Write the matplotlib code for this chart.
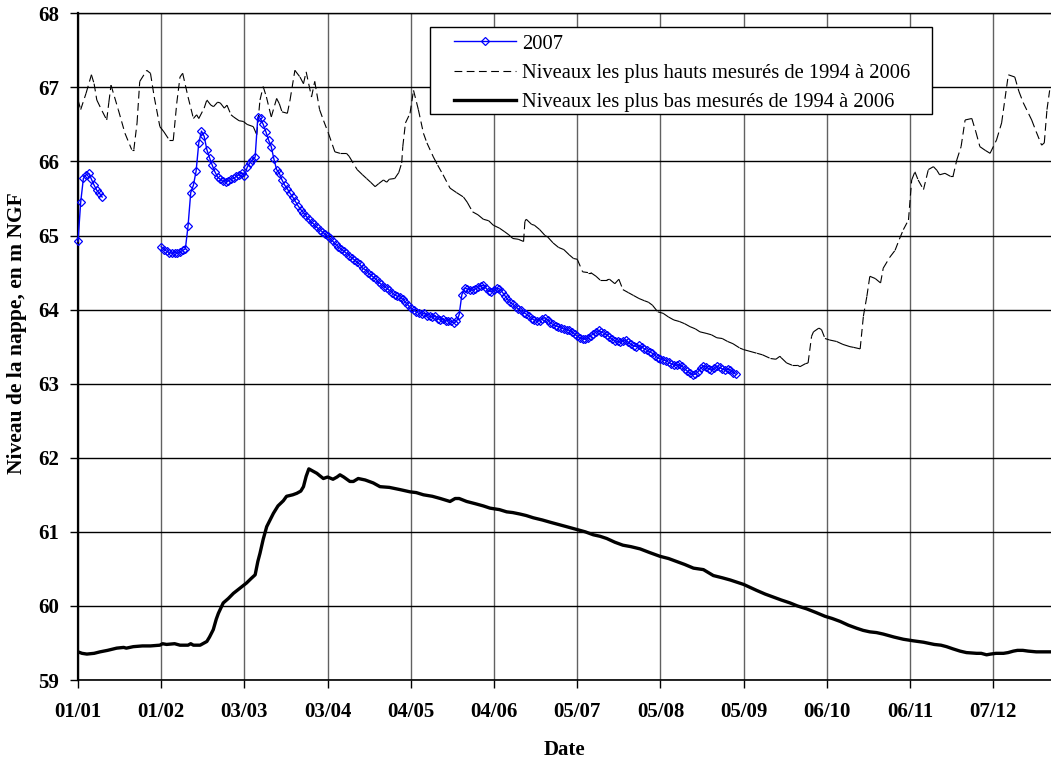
import numpy as np
import matplotlib
matplotlib.use("Agg")
import matplotlib.pyplot as plt
from matplotlib.collections import LineCollection
from matplotlib.lines import Line2D
from matplotlib.patches import Rectangle

plt.rcParams['font.family'] = ['Liberation Serif', 'DejaVu Serif']

# x axis: day of year, labels every 31 days
tick_days = [0, 31, 62, 93, 124, 155, 186, 217, 248, 279, 310, 341]
tick_labels = ["01/01", "01/02", "03/03", "03/04", "04/05", "04/06",
               "05/07", "05/08", "05/09", "06/10", "06/11", "07/12"]

# 2007 levels (daily), two pieces separated by a gap
days_2007_a = list(range(0, 10))
vals_2007_a = [64.92, 65.45, 65.77, 65.82, 65.84, 65.76, 65.68, 65.61, 65.57, 65.52]

days_2007_b = list(range(31, 246))
vals_2007_b = [
    64.85, 64.81, 64.79, 64.77, 64.76, 64.77, 64.76, 64.78, 64.80, 64.82,  # 31-40
    65.13, 65.58, 65.68, 65.87, 66.25, 66.41, 66.34, 66.16, 66.05, 65.95,  # 41-50
    65.86, 65.79, 65.76, 65.73, 65.72, 65.74, 65.76, 65.77, 65.80, 65.82,  # 51-60
    65.85, 65.80, 65.92, 65.98, 66.02, 66.06, 66.60, 66.58, 66.50, 66.40,  # 61-70
    66.29, 66.20, 66.03, 65.89, 65.84, 65.75, 65.68, 65.63, 65.57, 65.52,  # 71-80
    65.46, 65.40, 65.35, 65.31, 65.26, 65.22, 65.18, 65.15, 65.11, 65.08,  # 81-90
    65.05, 65.02, 64.99, 64.96, 64.92, 64.88, 64.85, 64.82, 64.79, 64.76,  # 91-100
    64.73, 64.70, 64.67, 64.64, 64.61, 64.56, 64.54, 64.50, 64.47, 64.44,  # 101-110
    64.41, 64.37, 64.34, 64.31, 64.29, 64.26, 64.23, 64.20, 64.18, 64.17,  # 111-120
    64.14, 64.10, 64.06, 64.02, 64.00, 63.97, 63.95, 63.94, 63.95, 63.92,  # 121-130
    63.91, 63.90, 63.92, 63.88, 63.86, 63.88, 63.85, 63.85, 63.84, 63.82,  # 131-140
    63.84, 63.93, 64.20, 64.29, 64.28, 64.27, 64.26, 64.28, 64.30, 64.32,  # 141-150
    64.33, 64.29, 64.25, 64.24, 64.27, 64.29, 64.28, 64.24, 64.19, 64.14,  # 151-160
    64.10, 64.07, 64.04, 64.01, 63.99, 63.96, 63.94, 63.91, 63.88, 63.86,  # 161-170
    63.84, 63.85, 63.88, 63.89, 63.86, 63.82, 63.80, 63.78, 63.77, 63.75,  # 171-180
    63.74, 63.73, 63.72, 63.70, 63.67, 63.64, 63.62, 63.61, 63.60, 63.62,  # 181-190
    63.65, 63.67, 63.70, 63.72, 63.70, 63.68, 63.66, 63.63, 63.60, 63.58,  # 191-200
    63.57, 63.56, 63.58, 63.59, 63.56, 63.53, 63.51, 63.50, 63.52, 63.50,  # 201-210
    63.47, 63.45, 63.43, 63.41, 63.38, 63.35, 63.33, 63.32, 63.31, 63.29,  # 211-220
    63.27, 63.25, 63.25, 63.26, 63.24, 63.20, 63.17, 63.14, 63.12, 63.13,  # 221-230
    63.16, 63.21, 63.24, 63.23, 63.20, 63.18, 63.21, 63.24, 63.22, 63.20,  # 231-240
    63.18, 63.20, 63.19, 63.15, 63.13,                                     # 241-245
]

# highest levels 1994-2006
hi_days = [0, 1, 3, 5, 6, 7, 9, 10.7, 11.5, 12.3, 15, 17.5, 20, 20.8, 22, 23, 25.6, 27,
           28.4, 30.5, 32, 34, 35.5, 36.8, 38, 39, 41, 43, 44.2, 45, 47, 48, 49.5, 50.5,
           52, 53, 54.5, 55.5, 57, 58, 60, 61.6, 63, 65.3, 66.6, 67.8, 69, 70.2, 72, 74,
           75, 76, 78, 79, 80.8, 82.7, 84, 85, 87, 88.2, 90, 91.5, 93.3, 95.7, 97.6, 100,
           101, 104, 106, 107.5, 109, 110.7, 112, 113.8, 115, 116, 118, 119.5, 120.6, 121,
           122, 123.7, 125, 126.8, 128.7, 130, 132.4, 134, 136, 138.6, 141, 143.6, 145,
           147, 149, 151, 153, 154.7, 157, 159, 160.5, 162, 164, 166, 166.5, 167, 169,
           170, 172, 174, 175, 177, 179, 181, 183, 184.6, 186, 188, 190, 191, 193, 194.5,
           197, 198, 200, 201.5, 203, 205, 207, 209, 211, 212.5, 214, 216, 218, 220, 222,
           224, 226, 228, 230, 231.7, 234, 236, 238, 240, 242, 244, 246.6, 248, 250, 253,
           255, 258, 260, 261.5, 262, 264, 266, 268, 269, 271, 272, 273.3, 274, 276, 277,
           278.3, 280, 282.6, 285, 287.6, 289, 291.4, 292.6, 293.9, 295, 297, 299, 300,
           302.5, 304.4, 306, 307.5, 309.4, 310.6, 311.8, 313, 315, 316.8, 318.7, 320,
           321, 323, 325, 326, 327.4, 329, 330.5, 333, 334.5, 336, 338, 339.8, 342.2,
           344.1, 346.6, 349, 350.5, 352.2, 355.3, 357, 359, 360, 361, 362]
hi_vals = [66.83, 66.70, 66.92, 67.17, 67.05, 66.83, 66.68, 66.56, 66.80, 67.03, 66.70,
           66.38, 66.16, 66.16, 66.52, 67.08, 67.23, 67.19, 66.87, 66.47, 66.40, 66.29,
           66.29, 66.79, 67.14, 67.19, 66.87, 66.58, 66.63, 66.58, 66.72, 66.83, 66.76,
           66.74, 66.80, 66.79, 66.72, 66.76, 66.63, 66.60, 66.55, 66.54, 66.50, 66.47,
           66.36, 66.83, 67.01, 66.87, 66.60, 66.85, 66.78, 66.67, 66.65, 66.83, 67.23,
           67.14, 67.05, 67.21, 66.87, 67.08, 66.70, 66.55, 66.38, 66.13, 66.11, 66.11,
           66.07, 65.89, 65.82, 65.77, 65.72, 65.66, 65.70, 65.75, 65.72, 65.76, 65.77,
           65.85, 65.98, 66.20, 66.52, 66.65, 66.96, 66.70, 66.38, 66.25, 66.06, 65.95,
           65.82, 65.64, 65.58, 65.52, 65.45, 65.32, 65.28, 65.22, 65.20, 65.14, 65.10,
           65.05, 65.01, 64.96, 64.95, 64.92, 65.19, 65.22, 65.15, 65.14, 65.08, 65.00,
           64.98, 64.90, 64.84, 64.81, 64.74, 64.69, 64.68, 64.51, 64.50, 64.50, 64.45,
           64.40, 64.40, 64.41, 64.35, 64.41, 64.27, 64.23, 64.19, 64.15, 64.12, 64.10,
           64.06, 63.97, 63.95, 63.90, 63.86, 63.84, 63.81, 63.77, 63.74, 63.70, 63.68,
           63.66, 63.62, 63.61, 63.57, 63.54, 63.48, 63.46, 63.44, 63.41, 63.39, 63.34,
           63.33, 63.37, 63.35, 63.28, 63.25, 63.25, 63.23, 63.27, 63.28, 63.64, 63.70,
           63.75, 63.73, 63.61, 63.59, 63.57, 63.53, 63.50, 63.49, 63.47, 63.91, 64.18,
           64.45, 64.42, 64.36, 64.56, 64.71, 64.80, 64.95, 65.08, 65.21, 65.75, 65.86,
           65.75, 65.62, 65.89, 65.93, 65.88, 65.82, 65.84, 65.80, 65.80, 66.02, 66.20,
           66.56, 66.58, 66.40, 66.20, 66.15, 66.11, 66.29, 66.52, 67.17, 67.14, 66.95,
           66.79, 66.56, 66.40, 66.22, 66.25, 66.70, 66.96]

# lowest levels 1994-2006
lo_days = [0, 1.5, 3.3, 6, 8.2, 11, 14.4, 17, 18, 20.6, 24, 27, 30.5, 31.5, 33, 36, 38,
           41, 42, 43, 45.5, 48, 49, 50.4, 51.5, 52.3, 54.1, 56, 57.9, 60, 62.8, 64.5,
           66, 67, 67.8, 69, 70.3, 72.8, 74.5, 76.5, 77.7, 80, 81.5, 83, 84, 85, 86,
           87.5, 89, 90, 91.4, 93, 95, 96.5, 97.6, 99, 101.3, 102.6, 104.4, 107, 110,
           112.5, 116, 120, 123.7, 126, 128.7, 132, 135, 138.6, 140.5, 142, 144.8, 148,
           151, 153.5, 157, 159.7, 162, 164.7, 167, 169.6, 173, 175.9, 179, 182, 186,
           189, 192, 194.5, 197, 200, 203, 206, 209.4, 213, 216.8, 220, 223, 226, 229.3,
           233, 236.7, 240, 243, 245.5, 248, 252.8, 256, 259, 262, 265.3, 268, 271.5,
           275, 278.3, 281, 284, 287, 290, 292.5, 295, 297.5, 300, 304, 307.5, 311, 315,
           319, 321.5, 323.6, 326, 328.6, 331, 334.8, 336.5, 338.5, 340, 342, 344.8,
           346.5, 348.5, 350, 352, 354, 357, 360, 362]
lo_vals = [59.38, 59.36, 59.35, 59.36, 59.38, 59.40, 59.43, 59.44, 59.43, 59.45, 59.46,
           59.46, 59.47, 59.49, 59.48, 59.49, 59.47, 59.47, 59.49, 59.47, 59.47, 59.52,
           59.58, 59.68, 59.82, 59.90, 60.04, 60.10, 60.17, 60.23, 60.31, 60.37, 60.42,
           60.60, 60.71, 60.90, 61.07, 61.25, 61.35, 61.42, 61.48, 61.50, 61.52, 61.55,
           61.61, 61.75, 61.85, 61.82, 61.79, 61.76, 61.72, 61.74, 61.71, 61.74, 61.77,
           61.74, 61.68, 61.68, 61.72, 61.70, 61.66, 61.61, 61.60, 61.57, 61.54, 61.53,
           61.50, 61.48, 61.45, 61.41, 61.45, 61.45, 61.41, 61.38, 61.35, 61.32, 61.30,
           61.27, 61.26, 61.24, 61.22, 61.19, 61.16, 61.13, 61.10, 61.07, 61.03, 61.00,
           60.96, 60.94, 60.91, 60.86, 60.82, 60.80, 60.77, 60.72, 60.67, 60.64, 60.60,
           60.56, 60.51, 60.49, 60.41, 60.38, 60.35, 60.32, 60.29, 60.21, 60.16, 60.12,
           60.08, 60.04, 60.00, 59.96, 59.91, 59.86, 59.83, 59.79, 59.74, 59.70, 59.67,
           59.65, 59.64, 59.62, 59.58, 59.55, 59.53, 59.51, 59.48, 59.47, 59.45, 59.42,
           59.39, 59.37, 59.36, 59.36, 59.34, 59.35, 59.36, 59.36, 59.37, 59.39, 59.40,
           59.40, 59.39, 59.38, 59.38, 59.38]

fig = plt.figure(figsize=(10.51, 7.61), dpi=100)
ax = fig.add_axes([78 / 1051, 81 / 761, 973 / 1051, 666.7 / 761])

# dashed line, dash pattern restarting on each segment (like Excel)
hi_pts = list(zip(hi_days, hi_vals))
segs = [[hi_pts[i], hi_pts[i + 1]] for i in range(len(hi_pts) - 1)]
lc = LineCollection(segs, colors="black", linewidths=0.8, linestyles=[(0, (7, 4))])
ax.add_collection(lc)

ax.plot(lo_days, lo_vals, color="black", lw=2.4, solid_joinstyle="round")

blue_kw = dict(color="#0000ff", lw=1.0, marker="D", markersize=4.3,
               markerfacecolor="none", markeredgewidth=0.9)
ax.plot(days_2007_a, vals_2007_a, clip_on=False, zorder=3, **blue_kw)
ax.plot(days_2007_b, vals_2007_b, clip_on=False, zorder=3, **blue_kw)

ax.set_xlim(0, 362.5)
ax.set_ylim(59, 68)
ax.set_xticks(tick_days)
ax.set_xticklabels(tick_labels)
ax.set_yticks(range(59, 69))

ax.set_axisbelow(True)
ax.yaxis.grid(True, color="black", lw=1.0)
ax.xaxis.grid(True, color="0.38", lw=1.0)

ax.spines["right"].set_visible(False)
ax.spines["top"].set_linewidth(1.0)
ax.spines["left"].set_linewidth(1.6)
ax.spines["bottom"].set_linewidth(1.2)

ax.tick_params(axis="x", direction="out", length=5.5, width=1, pad=10, labelsize=15)
ax.tick_params(axis="y", direction="out", length=5.5, width=1, pad=8, labelsize=15)
for lab in ax.get_xticklabels() + ax.get_yticklabels():
    lab.set_fontweight("bold")

ax.set_xlabel("Date", fontsize=15, fontweight="bold", labelpad=13)
ax.set_ylabel("Niveau de la nappe, en m NGF", fontsize=15.5, fontweight="bold")
ax.yaxis.set_label_coords(-0.052, 0.52)

# legend box
ax.add_patch(Rectangle((0.3618, 0.849), 0.5159, 0.1305, transform=ax.transAxes,
                       facecolor="white", edgecolor="black", lw=1.0, zorder=4.5))
handles = [
    Line2D([], [], **blue_kw),
    Line2D([], [], color="black", lw=0.8, linestyle=(0, (7, 4))),
    Line2D([], [], color="black", lw=2.4),
]
labels = ["2007", "Niveaux les plus hauts mesurés de 1994 à 2006",
          "Niveaux les plus bas mesurés de 1994 à 2006"]
leg = ax.legend(handles, labels, loc="upper left", bbox_to_anchor=(0.3864, 0.9685),
                frameon=False, fontsize=14.8, borderpad=0, borderaxespad=0,
                handlelength=3.0, handletextpad=0.3, labelspacing=0.48)
leg.set_zorder(5)

fig.savefig("out.png", dpi=100)
